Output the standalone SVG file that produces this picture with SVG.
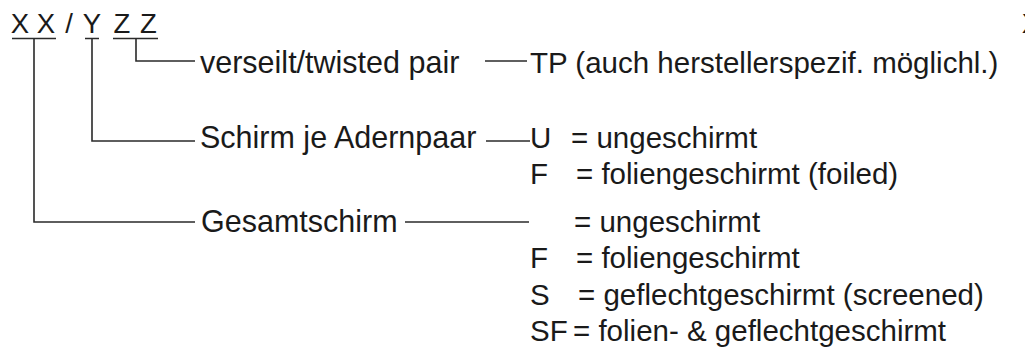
<svg xmlns="http://www.w3.org/2000/svg" width="1025" height="347" viewBox="0 0 1025 347">
<style>
text{font-family:"Liberation Sans",Arial,sans-serif;fill:#1a1a1a}
.code{font-size:27.5px;text-anchor:middle}
.lbl{font-size:30.5px}
.val{font-size:29.5px}
.ln{stroke:#2a2a2a;stroke-width:1.6;fill:none}
</style>
<rect width="1025" height="347" fill="#fff"/>
<g id="code">
<text class="code" x="20" y="33">X</text>
<text class="code" x="46" y="33">X</text>
<text class="code" x="69" y="33">/</text>
<text class="code" x="92" y="33">Y</text>
<text class="code" x="122" y="33">Z</text>
<text class="code" x="148.5" y="33">Z</text>
<text class="code" x="1031" y="33">X</text>
<path class="ln" d="M12 38.5H56M85 38.5H99M113 38.5H158"/>
</g>
<g id="connectors">
<path class="ln" d="M136 38.5V61H195"/>
<path class="ln" d="M92 38.5V141H195"/>
<path class="ln" d="M34 38.5V222H195"/>
<path class="ln" d="M485 61H527"/>
<path class="ln" d="M486 141H530"/>
<path class="ln" d="M405 222H529"/>
</g>
<g id="twisted">
<text class="lbl" x="200" y="73">verseilt/twisted pair</text>
<text class="val" x="530" y="73">TP (auch herstellerspezif. möglichl.)</text>
</g>
<g id="pairshield">
<text class="lbl" x="200" y="148">Schirm je Adernpaar</text>
<text class="val" x="530" y="148">U</text><text class="val" x="571" y="148">= ungeschirmt</text>
<text class="val" x="530" y="184">F</text><text class="val" x="576" y="184">= foliengeschirmt (foiled)</text>
</g>
<g id="overall">
<text class="lbl" x="201" y="232">Gesamtschirm</text>
<text class="val" x="574" y="232">= ungeschirmt</text>
<text class="val" x="530" y="268">F</text><text class="val" x="576" y="268">= foliengeschirmt</text>
<text class="val" x="530" y="304.5">S</text><text class="val" x="578" y="304.5">= geflechtgeschirmt (screened)</text>
<text class="val" x="530" y="341">SF</text><text class="val" x="573" y="341">= folien- &amp; geflechtgeschirmt</text>
</g>
</svg>
